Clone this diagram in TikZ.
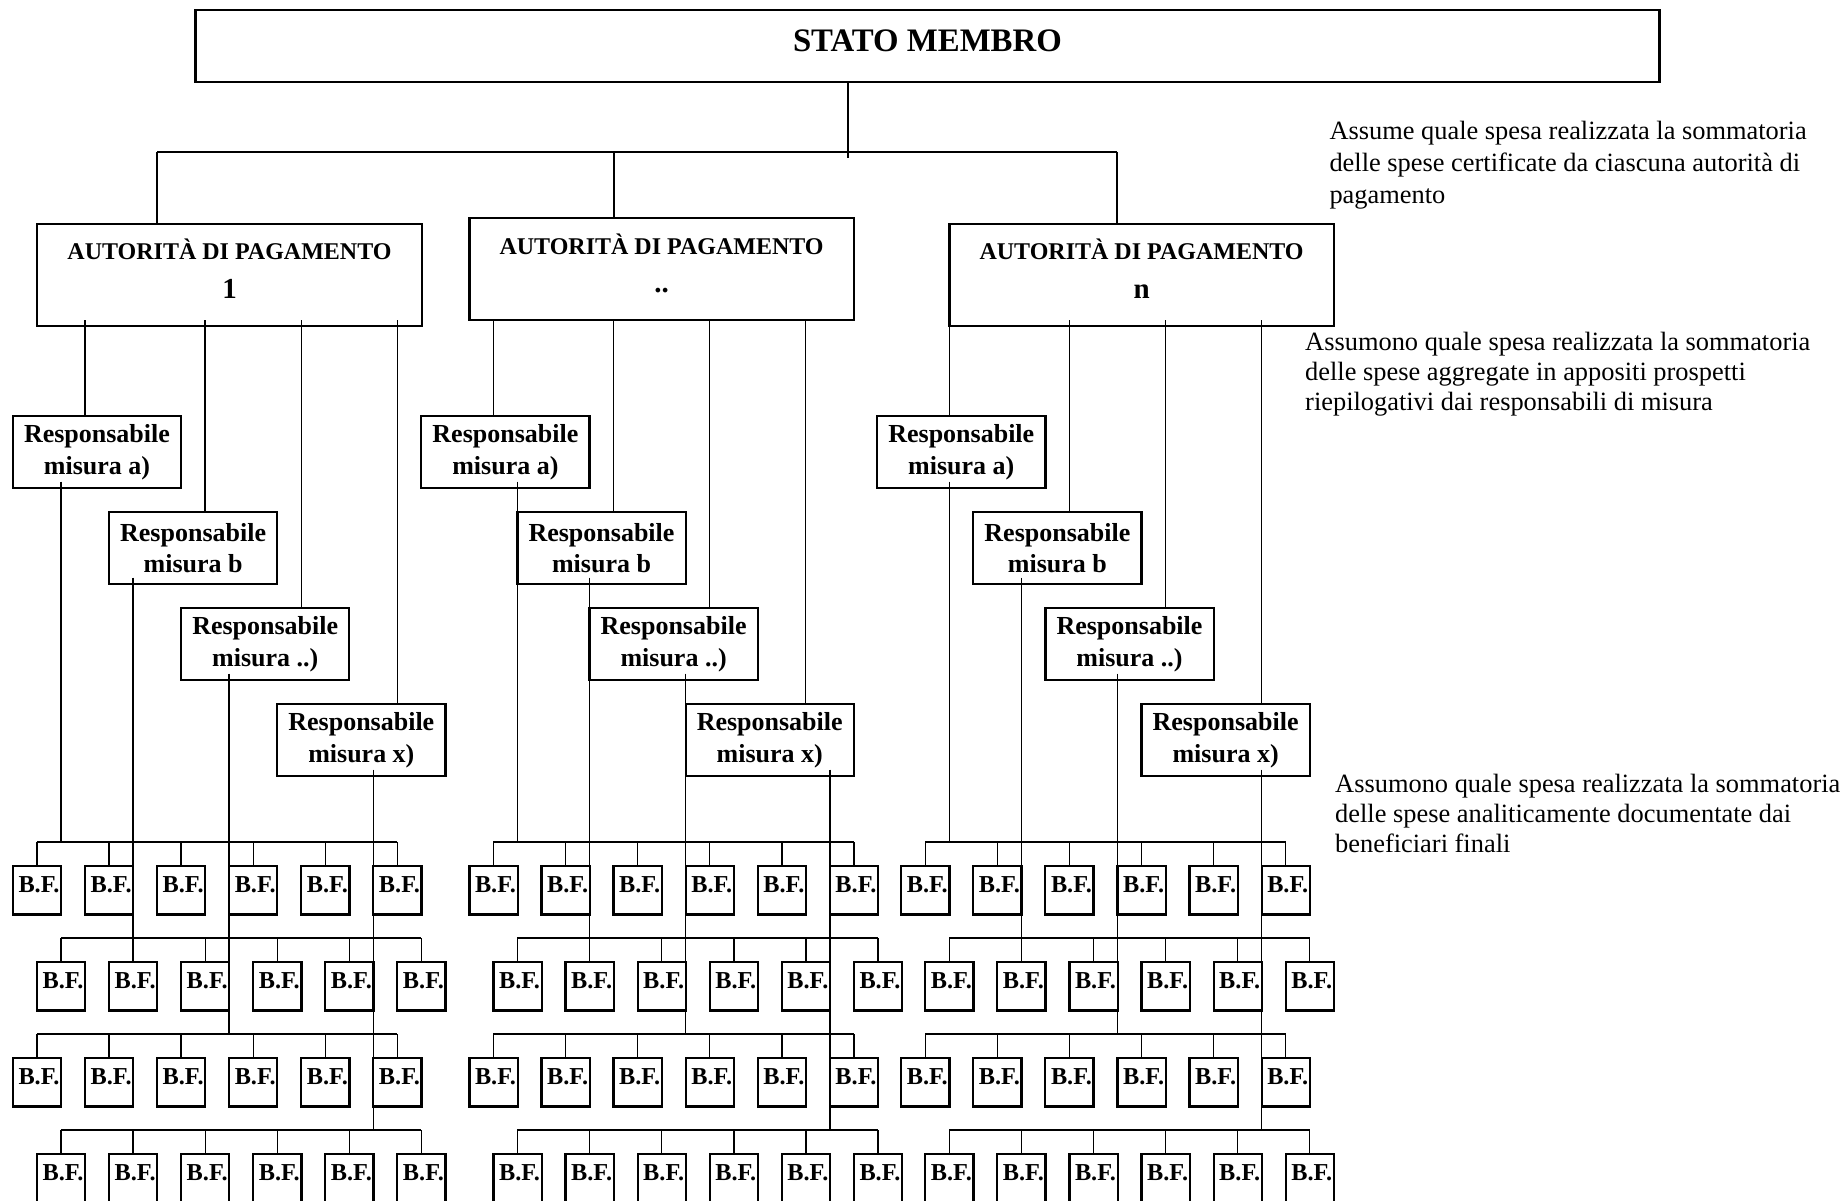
\documentclass[tikz,border=0pt]{standalone}
\usepackage{fontspec}
\setmainfont{Liberation Serif}
\usetikzlibrary{calc}
\begin{document}
\begin{tikzpicture}[x=1pt,y=-1pt,
  frame/.style={draw,line width=2.2pt,inner sep=0pt,outer sep=0pt,anchor=north west},
  wire/.style={line width=1.4pt},
  bus/.style={line width=1.9pt},
  topbox/.style={frame,minimum width=1464pt,minimum height=71.7pt,text height=21.6pt,text depth=9.3pt,
    font=\bfseries\fontsize{32.8}{38}\selectfont},
  apbox/.style={frame,minimum width=384.4pt,minimum height=102pt},
  aptitle/.style={anchor=base,inner sep=0pt,font=\bfseries\fontsize{24}{28}\selectfont},
  apnum/.style={anchor=base,inner sep=0pt,font=\bfseries\fontsize{29}{34}\selectfont},
  respbox/.style={frame,minimum width=168.2pt,minimum height=72.6pt,align=center,
    font=\bfseries\fontsize{26}{31.6}\selectfont},
  bfbox/.style={frame,minimum width=48.2pt,minimum height=48.6pt,text height=16pt,text depth=10.6pt,
    font=\bfseries\fontsize{24.3}{29}\selectfont},
  note/.style={anchor=base west,inner sep=0pt,align=left,font=\fontsize{26.4}{32}\selectfont},
  note2/.style={note,font=\fontsize{26.4}{30}\selectfont},
]
\def\gu{24.03}
\fill[white] (0,0) rectangle (1845,1201);
\useasboundingbox (0,0) rectangle (1845,1201);
\clip (0,0) rectangle (1845,1201);

% top level
\node[topbox] (stato) at (195.4,10) {STATO MEMBRO};
\coordinate (hubL) at (157,152);
\coordinate (hubR) at (1117,152);
\draw[bus] (hubL) -- (hubR);
\draw[wire] (848,0 |- stato.south) -- (848,158);

% three payment authorities with their measure managers and final beneficiaries
\foreach \g/\ro/\bo/\ax/\aptop/\lift/\lbl/\feed in
  {1/12.9/12.9/37.3/224/6/1/157,
   2/421.3/469.4/469.4/218.3/0/{..}/613.8,
   3/877.2/901.2/949.4/224/6/n/1117} {
  \node[apbox] (ap\g) at (\ax,\aptop) {};
  \node[aptitle] (ap\g t) at ($(ap\g.north)+(0,36)$) {AUTORITÀ DI PAGAMENTO};
  \node[apnum] (ap\g n) at ($(ap\g.north)+(0,74.3)$) {\lbl};
  \draw[wire] (\feed,0 |- hubL) -- (\feed,0 |- ap\g.north);

  % rows of final beneficiaries
  \foreach \r in {1,2,3,4} {
    \pgfmathsetmacro\sh{mod(\r+1,2)}
    \pgfmathsetmacro\by{842+(\r-1)*96}
    \coordinate (busL\g\r) at (\bo+\sh*\gu+\gu,\by);
    \coordinate (busR\g\r) at (\bo+\sh*\gu+16*\gu,\by);
    \draw[bus] (busL\g\r) -- (busR\g\r);
    \foreach \k in {0,...,5} {
      \pgfmathsetmacro\fx{\bo+(\sh+3*\k)*\gu}
      \node[bfbox] (bf\g\r\k) at (\fx,\by+23.8) {\hspace*{4pt}B.F.};
      \draw[wire] (bf\g\r\k.north) -- (bf\g\r\k.north |- busL\g\r);
    }
  }

  % measure managers
  \foreach \i/\bx/\tx/\dx/\lab in {1/0/3/2/{a)},2/4/8/5/b,3/7/12/9/{..)},4/11/16/15/{x)}} {
    \pgfmathsetmacro\rx{\ro+\bx*\gu}
    \pgfmathsetmacro\ry{415.7+(\i-1)*96}
    \node[respbox] (r\g\i) at (\rx,\ry) {Responsabile\\misura \lab};
    \pgfmathsetmacro\tpx{\ro+\tx*\gu}
    \draw[wire] (\tpx,0 |- r\g\i.north) -- ($(\tpx,0 |- ap\g.south)+(0,-\lift)$);
    \pgfmathsetmacro\bpx{\bo+\dx*\gu}
    \draw[wire] ($(\bpx,0 |- r\g\i.south)+(0,-6.6)$) -- (\bpx,0 |- busL\g\i);
  }
}

% explanatory notes (anchored at the baseline of their last line)
\node[note] (n1) at (1329.3,203.3) {Assume quale spesa realizzata la sommatoria\\delle spese certificate da ciascuna autorità di\\pagamento};
\node[note2] (n2) at (1305,410) {Assumono quale spesa realizzata la sommatoria\\delle spese aggregate in appositi prospetti\\riepilogativi dai responsabili di misura};
\node[note2] (n3) at (1335,852) {Assumono quale spesa realizzata la sommatoria\\delle spese analiticamente documentate dai\\beneficiari finali};
\end{tikzpicture}
\end{document}
